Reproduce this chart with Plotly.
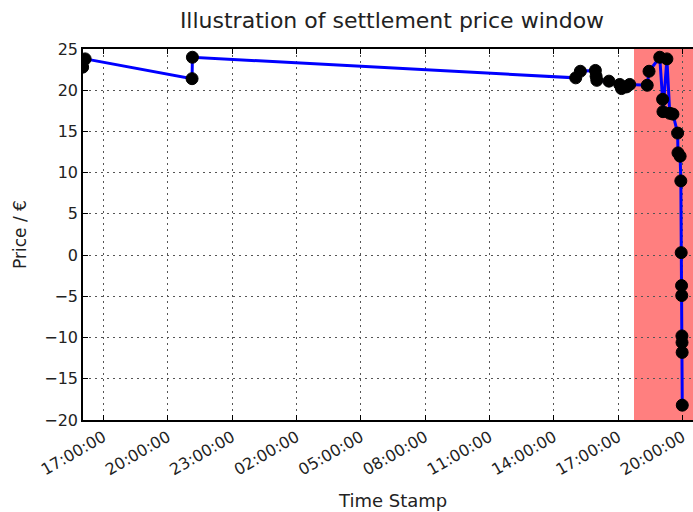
import plotly.graph_objects as go

# Trade time stamps (two consecutive days) and traded prices in EUR
time_stamps = [
    "2016-03-09 16:02", "2016-03-09 16:09", "2016-03-09 21:08", "2016-03-09 21:09",
    "2016-03-10 15:01", "2016-03-10 15:14", "2016-03-10 15:56", "2016-03-10 15:58",
    "2016-03-10 16:00", "2016-03-10 16:34", "2016-03-10 17:04", "2016-03-10 17:09",
    "2016-03-10 17:23", "2016-03-10 17:32", "2016-03-10 18:21", "2016-03-10 18:26",
    "2016-03-10 18:56", "2016-03-10 19:04", "2016-03-10 19:05", "2016-03-10 19:16",
    "2016-03-10 19:24", "2016-03-10 19:33", "2016-03-10 19:46", "2016-03-10 19:47",
    "2016-03-10 19:53", "2016-03-10 19:55", "2016-03-10 19:56", "2016-03-10 19:57",
    "2016-03-10 19:57:30", "2016-03-10 19:58", "2016-03-10 19:58:20", "2016-03-10 19:58:40",
    "2016-03-10 19:59",
]
prices = [
    22.8, 23.8, 21.4, 24.0,
    21.5, 22.3, 22.4, 21.7,
    21.2, 21.1, 20.7, 20.2,
    20.4, 20.7, 20.6, 22.3,
    24.0, 18.9, 17.4, 23.8,
    17.2, 17.1, 14.8, 12.4,
    12.0, 9.0, 0.3, -3.7,
    -4.9, -9.8, -10.6, -11.8,
    -18.2,
]

# Settlement window (shaded) and axis extents
window_start = "2016-03-10 17:44"
window_end = "2016-03-10 21:00"
x_range = ["2016-03-09 16:03", "2016-03-10 20:29"]
y_range = [-20, 25]
y_ticks = [-20, -15, -10, -5, 0, 5, 10, 15, 20, 25]

font_family = "DejaVu Sans, Liberation Sans, sans-serif"
text_color = "#222"

fig = go.Figure()

fig.add_trace(go.Scatter(
    x=time_stamps,
    y=prices,
    mode="lines+markers",
    line=dict(color="#0000ff", width=3),
    marker=dict(color="black", size=12, line=dict(color="black", width=1)),
    cliponaxis=True,
    showlegend=False,
))

fig.add_shape(
    type="rect", xref="x", yref="paper",
    x0=window_start, x1=window_end, y0=0, y1=1,
    fillcolor="rgba(255,0,0,0.5)", line=dict(width=0), layer="below",
)

# x-axis caption, centred on the full axes width
fig.add_annotation(
    text="Time Stamp", xref="paper", yref="paper",
    x=0.5066, y=0, xanchor="center", yanchor="middle", yshift=-80,
    showarrow=False, font=dict(size=18, color=text_color),
)

fig.update_layout(
    width=693, height=512,
    margin=dict(l=83, r=0, t=49, b=92),
    paper_bgcolor="white", plot_bgcolor="white",
    font=dict(family=font_family, size=16, color=text_color),
    title=dict(
        text="Illustration of settlement price window",
        x=392 / 693, xref="container", xanchor="center",
        y=1 - 20 / 512, yref="container", yanchor="middle",
        font=dict(size=22, color=text_color),
    ),
)

grid_style = dict(showgrid=True, gridcolor="#555", griddash="2px,4px", gridwidth=1)

fig.update_xaxes(
    type="date",
    range=x_range,
    tick0="2016-03-09 17:00",
    dtick=3 * 3600 * 1000,
    tickformat="%H:%M:%S",
    tickangle=-30,
    ticks="inside", ticklen=5, tickcolor="black",
    showline=True, linecolor="black", linewidth=1.5, mirror="ticks",
    zeroline=False,
    tickfont=dict(size=16, color=text_color),
    **grid_style,
)

fig.update_yaxes(
    range=y_range,
    tickvals=y_ticks,
    ticks="inside", ticklen=5, tickcolor="black",
    showline=True, linecolor="black", linewidth=1.5, mirror=False,
    zeroline=False,
    tickfont=dict(size=16, color=text_color),
    title=dict(text="Price / €", font=dict(size=17, color=text_color), standoff=13),
    **grid_style,
)

fig.write_html("out.html")
